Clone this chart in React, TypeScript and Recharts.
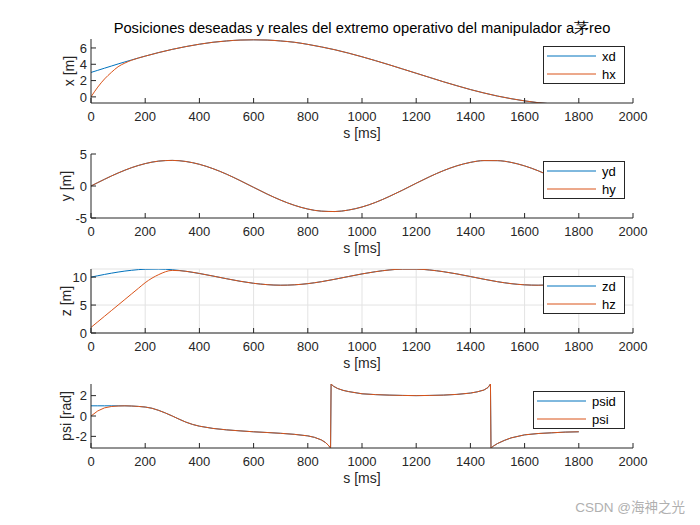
import { LineChart, Line, XAxis, YAxis, CartesianGrid } from "recharts";

const FONT = '"Liberation Sans", Arial, Helvetica, sans-serif';
const AX = "#262626";
const BLUE = "#0072BD";
const ORANGE = "#D95319";

// time samples (ms)
const tMain = [
  0, 25, 50, 75, 100, 125, 150, 175, 200, 250, 300, 350, 400, 450, 500, 550, 600, 650, 700, 750, 800,
  850, 900, 950, 1000, 1050, 1100, 1150, 1200, 1250, 1300, 1350, 1400, 1450, 1500, 1550, 1600, 1650,
  1700, 1750, 1800,
];

const xd = [
  3.0, 3.26, 3.52, 3.78, 4.04, 4.29, 4.53, 4.77, 5.0, 5.44, 5.83, 6.17, 6.46, 6.7, 6.86, 6.97, 7.0, 6.97,
  6.86, 6.7, 6.44, 6.13, 5.78, 5.37, 4.92, 4.44, 3.94, 3.42, 2.9, 2.38, 1.86, 1.37, 0.9, 0.48, 0.1, -0.22,
  -0.49, -0.71, -0.86, -0.96, -1.0,
];
const hx = [
  0.0, 1.2, 2.2, 3.0, 3.7, 4.15, 4.5, 4.77, 5.0, 5.44, 5.83, 6.17, 6.46, 6.7, 6.86, 6.97, 7.0, 6.97,
  6.86, 6.7, 6.44, 6.13, 5.78, 5.37, 4.92, 4.44, 3.94, 3.42, 2.9, 2.38, 1.86, 1.37, 0.9, 0.48, 0.1, -0.22,
  -0.49, -0.71, -0.86, -0.96, -1.0,
];

const yd = [
  0.0, 0.53, 1.05, 1.56, 2.03, 2.47, 2.87, 3.21, 3.5, 3.89, 4.0, 3.83, 3.39, 2.71, 1.85, 0.85, -0.21,
  -1.26, -2.21, -3.01, -3.6, -3.93, -3.99, -3.76, -3.28, -2.56, -1.65, -0.64, 0.43, 1.46, 2.39, 3.15,
  3.69, 3.97, 3.96, 3.69, 3.14, 2.38, 1.45, 0.43, -0.64,
];
const hy = [
  0.0, 0.53, 1.05, 1.56, 2.03, 2.47, 2.87, 3.21, 3.5, 3.89, 4.0, 3.83, 3.39, 2.71, 1.85, 0.85, -0.21,
  -1.26, -2.21, -3.01, -3.6, -3.93, -3.99, -3.76, -3.28, -2.56, -1.65, -0.64, 0.43, 1.46, 2.39, 3.15,
  3.69, 3.97, 3.96, 3.69, 3.14, 2.38, 1.45, 0.43, -0.64,
];

const zd = [
  10.0, 10.24, 10.48, 10.7, 10.9, 11.08, 11.22, 11.34, 11.41, 11.44, 11.32, 11.04, 10.65, 10.19, 9.71,
  9.26, 8.89, 8.65, 8.55, 8.62, 8.83, 9.18, 9.62, 10.1, 10.57, 10.97, 11.27, 11.43, 11.43, 11.27, 10.97,
  10.57, 10.1, 9.62, 9.18, 8.83, 8.62, 8.55, 8.65, 8.89, 9.26,
];
const hz = [
  1.0, 2.0, 3.0, 4.0, 5.0, 6.0, 7.0, 8.0, 9.0, 10.45, 11.2, 11.04, 10.65, 10.19, 9.71, 9.26, 8.89,
  8.65, 8.55, 8.62, 8.83, 9.18, 9.62, 10.1, 10.57, 10.97, 11.27, 11.43, 11.43, 11.27, 10.97, 10.57,
  10.1, 9.62, 9.18, 8.83, 8.62, 8.55, 8.65, 8.89, 9.26,
];

const tPsi = [
  0, 25, 50, 75, 100, 125, 150, 175, 200, 225, 250, 275, 300, 325, 350, 375, 400, 450, 500, 550, 600,
  650, 700, 750, 800, 825, 850, 865, 875, 884, 886, 895, 910, 930, 950, 1000, 1050, 1100, 1150, 1200,
  1250, 1300, 1350, 1400, 1425, 1450, 1465, 1474, 1476, 1485, 1500, 1525, 1550, 1600, 1650, 1700, 1750,
  1800,
];
const psid = [
  1.0, 1.0, 1.0, 1.0, 1.0, 1.0, 0.98, 0.94, 0.88, 0.76, 0.55, 0.29, 0.0, -0.31, -0.6, -0.83, -1.0, -1.22,
  -1.36, -1.46, -1.55, -1.62, -1.7, -1.8, -1.95, -2.1, -2.35, -2.6, -2.85, -3.14, 3.14, 2.92, 2.7, 2.52,
  2.4, 2.18, 2.1, 2.05, 2.02, 2.0, 2.02, 2.05, 2.12, 2.25, 2.37, 2.55, 2.8, 3.14, -3.14, -2.95, -2.7, -2.4,
  -2.15, -1.85, -1.72, -1.65, -1.58, -1.55,
];
const psi = [
  0.0, 0.5, 0.8, 0.93, 0.98, 1.0, 0.98, 0.94, 0.88, 0.76, 0.55, 0.29, 0.0, -0.31, -0.6, -0.83, -1.0, -1.22,
  -1.36, -1.46, -1.55, -1.62, -1.7, -1.8, -1.95, -2.1, -2.35, -2.6, -2.85, -3.14, 3.14, 2.92, 2.7, 2.52,
  2.4, 2.18, 2.1, 2.05, 2.02, 2.0, 2.02, 2.05, 2.12, 2.25, 2.37, 2.55, 2.8, 3.14, -3.14, -2.95, -2.7, -2.4,
  -2.15, -1.85, -1.72, -1.65, -1.58, -1.55,
];

const xTicks = [0, 200, 400, 600, 800, 1000, 1200, 1400, 1600, 1800, 2000];

const build = (t: number[], a: number[], b: number[]) => t.map((v, i) => ({ t: v, a: a[i], b: b[i] }));

const panels = [
  { data: build(tMain, xd, hx), names: ["xd", "hx"], domain: [-0.75, 7.1], ticks: [0, 2, 4, 6], label: "x [m]", lo: 18, grid: false, legLeft: 543, curve: "monotone" },
  { data: build(tMain, yd, hy), names: ["yd", "hy"], domain: [-5, 5], ticks: [-5, 0, 5], label: "y [m]", lo: 15, grid: false, legLeft: 543, curve: "monotone" },
  { data: build(tMain, zd, hz), names: ["zd", "hz"], domain: [0, 11.45], ticks: [0, 5, 10], label: "z [m]", lo: 15, grid: true, legLeft: 543, curve: "monotone" },
  { data: build(tPsi, psid, psi), names: ["psid", "psi"], domain: [-3.1416, 3.1416], ticks: [-2, 0, 2], label: "psi [rad]", lo: 15, grid: false, legLeft: 533, curve: "linear" },
];

const tickStyle = { fontSize: 13, fill: AX, fontFamily: FONT };

function Panel({ p, top }: { p: any; top: number }) {
  return (
    <div style={{ position: "absolute", left: 0, top }}>
      <LineChart width={700} height={115} data={p.data} margin={{ top: 10, right: 67, bottom: 0, left: 51 }}>
        {p.grid && <CartesianGrid stroke="#e3e3e3" strokeWidth={1} />}
        <XAxis
          dataKey="t"
          type="number"
          domain={[0, 2000]}
          ticks={xTicks}
          allowDataOverflow
          height={41}
          tickSize={-5}
          tickMargin={14}
          stroke={AX}
          tick={tickStyle}
          interval={0}
          label={{ value: "s [ms]", position: "insideBottom", offset: 6, fill: AX, fontSize: 14, fontFamily: FONT }}
        />
        <XAxis xAxisId="top" orientation="top" type="number" domain={[0, 2000]} ticks={xTicks} allowDataOverflow height={0} tickSize={-5} tick={false} stroke={AX} />
        <YAxis
          type="number"
          domain={p.domain}
          ticks={p.ticks}
          allowDataOverflow
          width={40}
          tickSize={-5}
          tickMargin={9}
          stroke={AX}
          tick={tickStyle}
          interval={0}
          label={{ value: p.label, angle: -90, position: "insideLeft", offset: p.lo, fill: AX, fontSize: 14, fontFamily: FONT, style: { textAnchor: "middle" } }}
        />
        <YAxis yAxisId="right" orientation="right" type="number" domain={p.domain} ticks={p.ticks} allowDataOverflow width={0} tickSize={-5} tick={false} stroke={AX} />
        <Line type={p.curve} dataKey="a" stroke={BLUE} strokeWidth={1} dot={false} isAnimationActive={false} />
        <Line type={p.curve} dataKey="b" stroke={ORANGE} strokeWidth={1} dot={false} isAnimationActive={false} />
      </LineChart>
    </div>
  );
}

export default function App() {
  return (
    <div style={{ position: "absolute", left: 0, top: 0, width: 700, height: 525, background: "#fff", overflow: "hidden" }}>
      {panels.map((p, i) => (
        <Panel key={i} p={p} top={29 + 115 * i} />
      ))}
      <svg width={700} height={525} style={{ position: "absolute", left: 0, top: 0, pointerEvents: "none" }}>
        <text x={362} y={33} textAnchor="middle" fontFamily={FONT} fontSize={14.7} fill="#000">
          Posiciones deseadas y reales del extremo operativo del manipulador a茅reo
        </text>
        {panels.map((p, i) => {
          const top = 46 + 115 * i;
          const w = 624 - p.legLeft;
          return (
            <g key={i}>
              <rect x={p.legLeft + 0.5} y={top + 0.5} width={w} height={37} fill="#fff" stroke={AX} strokeWidth={1} />
              {p.names.map((n: string, j: number) => (
                <g key={n}>
                  <line x1={p.legLeft + 4} x2={p.legLeft + 53} y1={top + 10 + 18 * j} y2={top + 10 + 18 * j} stroke={j === 0 ? BLUE : ORANGE} strokeWidth={1} />
                  <text x={p.legLeft + 59} y={top + 10 + 18 * j} dominantBaseline="central" fontFamily={FONT} fontSize={13} fill="#000">
                    {n}
                  </text>
                </g>
              ))}
            </g>
          );
        })}
        <text x={685} y={512} textAnchor="end" fontFamily={'"Liberation Sans", "Noto Sans CJK SC", sans-serif'} fontSize={13.5} fill="#b0b0b0">
          CSDN @海神之光
        </text>
      </svg>
    </div>
  );
}
